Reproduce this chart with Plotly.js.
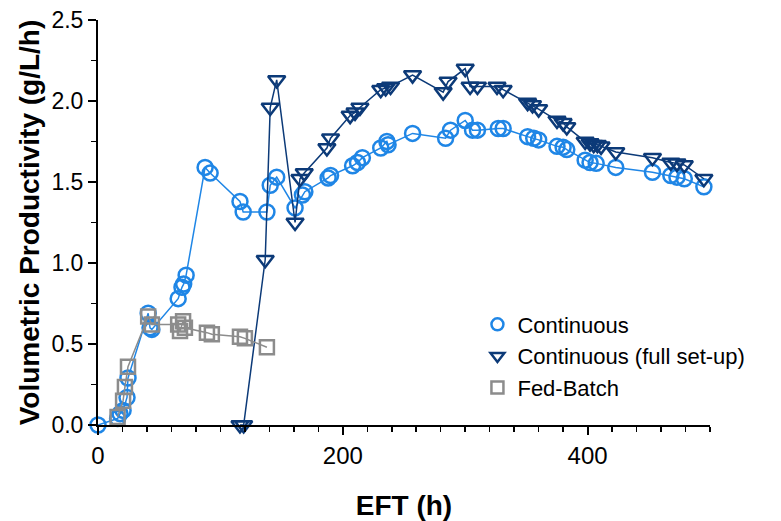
<!DOCTYPE html>
<html>
<head>
<meta charset="utf-8">
<script src="https://cdn.plot.ly/plotly-3.0.1.min.js"></script>
<style>html,body{margin:0;padding:0;background:#fff}#chart{width:781px;height:521px}</style>
</head>
<body>
<div id="chart"></div>
<script>
// Continuous
const contX = [0, 16, 18, 20.5, 23.7, 24.5, 41, 42.5, 44, 65.5, 68.6, 70, 72, 87.5, 91.6, 116, 118.6, 138, 140.7, 146, 161, 167, 169, 188, 190, 208, 212, 216, 231, 236, 237, 257, 284, 288, 300, 306, 310, 327, 331, 351, 356, 360, 375, 380, 383, 398, 402, 407, 423, 453, 468, 473, 479, 495];
const contY = [0, 0.04, 0.07, 0.09, 0.17, 0.29, 0.69, 0.60, 0.59, 0.78, 0.85, 0.87, 0.925, 1.59, 1.555, 1.38, 1.315, 1.315, 1.48, 1.53, 1.34, 1.42, 1.44, 1.525, 1.54, 1.60, 1.62, 1.65, 1.71, 1.75, 1.73, 1.80, 1.77, 1.82, 1.88, 1.82, 1.82, 1.83, 1.83, 1.78, 1.77, 1.76, 1.72, 1.715, 1.70, 1.635, 1.62, 1.615, 1.59, 1.56, 1.54, 1.53, 1.52, 1.47];

// Continuous (full set-up)
const fullX = [116, 119, 136.6, 140.7, 146, 161, 165, 168.5, 187, 190, 206, 210, 214, 231, 235, 239, 257, 282, 286, 300, 304, 310, 326, 331, 351, 355, 360, 375, 380, 383, 398, 402, 405, 408, 411, 423, 453, 468, 473, 479, 495];
const fullY = [0, 0, 1.02, 1.96, 2.13, 1.25, 1.52, 1.555, 1.71, 1.77, 1.91, 1.93, 1.96, 2.07, 2.08, 2.09, 2.16, 2.055, 2.12, 2.20, 2.09, 2.09, 2.09, 2.07, 1.99, 1.975, 1.95, 1.88, 1.865, 1.84, 1.75, 1.74, 1.73, 1.73, 1.72, 1.685, 1.65, 1.62, 1.615, 1.605, 1.52];

// Fed-Batch
const fedX = [16, 20.5, 22, 24.5, 41, 44, 65.5, 67, 69.5, 71, 89, 93, 116, 120, 138];
const fedY = [0.05, 0.15, 0.235, 0.36, 0.67, 0.62, 0.62, 0.58, 0.64, 0.60, 0.57, 0.56, 0.545, 0.535, 0.48];

const seriesNames = ["Continuous", "Continuous (full set-up)", "Fed-Batch"];
const xTicks = [0, 200, 400];
const yTicks = [0, 0.5, 1.0, 1.5, 2.0, 2.5];

const colors = ["#1f86e6", "#0c3a78", "#8c8c8c"];
const symbols = ["circle-open", "triangle-down-open", "square-open"];
const sizes = [15, 15, 14];
const xs = [contX, fullX, fedX], ys = [contY, fullY, fedY];

const traces = [];
for (let i = 0; i < 3; i++) {
  traces.push({x: xs[i], y: ys[i], name: seriesNames[i], type: "scatter", mode: "lines+markers",
    cliponaxis: false, showlegend: false,
    line: {color: colors[i], width: 1.5},
    marker: {symbol: symbols[i], size: sizes[i], color: colors[i], line: {width: 2.5}}});
}
// legend entries (marker only, like the reference legend)
for (let i = 0; i < 3; i++) {
  traces.push({x: [null], y: [null], name: seriesNames[i], type: "scatter", mode: "markers",
    showlegend: true,
    marker: {symbol: symbols[i], size: 12, color: colors[i], line: {width: 2.5}}});
}

const layout = {
  width: 781, height: 521,
  margin: {l: 98, r: 71, t: 20, b: 96, autoexpand: false},
  paper_bgcolor: "#fff", plot_bgcolor: "#fff",
  font: {family: "Liberation Sans, Arial, sans-serif", color: "#000"},
  showlegend: true,
  legend: {x: 0.62, y: 0.3, xanchor: "left", yanchor: "top", font: {size: 22, color: "#000"},
           bgcolor: "rgba(0,0,0,0)", tracegroupgap: 0, itemwidth: 30},
  xaxis: {
    range: [0, 500], showgrid: false, zeroline: false,
    showline: true, linecolor: "#000", linewidth: 2,
    ticks: "outside", ticklen: 8, tickwidth: 2, tickcolor: "#000",
    tickvals: xTicks, ticktext: xTicks.map(String),
    tickfont: {size: 24, color: "#000"},
    minor: {dtick: 20, ticks: "outside", ticklen: 5, tickwidth: 1.5, tickcolor: "#000", showgrid: false},
    title: {text: "<b>EFT (h)</b>", font: {size: 28, color: "#000"}, standoff: 28}
  },
  yaxis: {
    range: [0, 2.5], showgrid: false, zeroline: false,
    showline: true, linecolor: "#000", linewidth: 2,
    ticks: "outside", ticklen: 8, tickwidth: 2, tickcolor: "#000",
    tickvals: yTicks, ticktext: yTicks.map(v => v.toFixed(1)),
    tickfont: {size: 23, color: "#000"},
    minor: {dtick: 0.25, ticks: "outside", ticklen: 5, tickwidth: 1.5, tickcolor: "#000", showgrid: false},
    title: {text: "<b>Volumetric Productivity (g/L/h)</b>", font: {size: 28, color: "#000"}, standoff: 4}
  }
};

Plotly.newPlot("chart", traces, layout, {displayModeBar: false, staticPlot: true});
</script>
</body>
</html>
